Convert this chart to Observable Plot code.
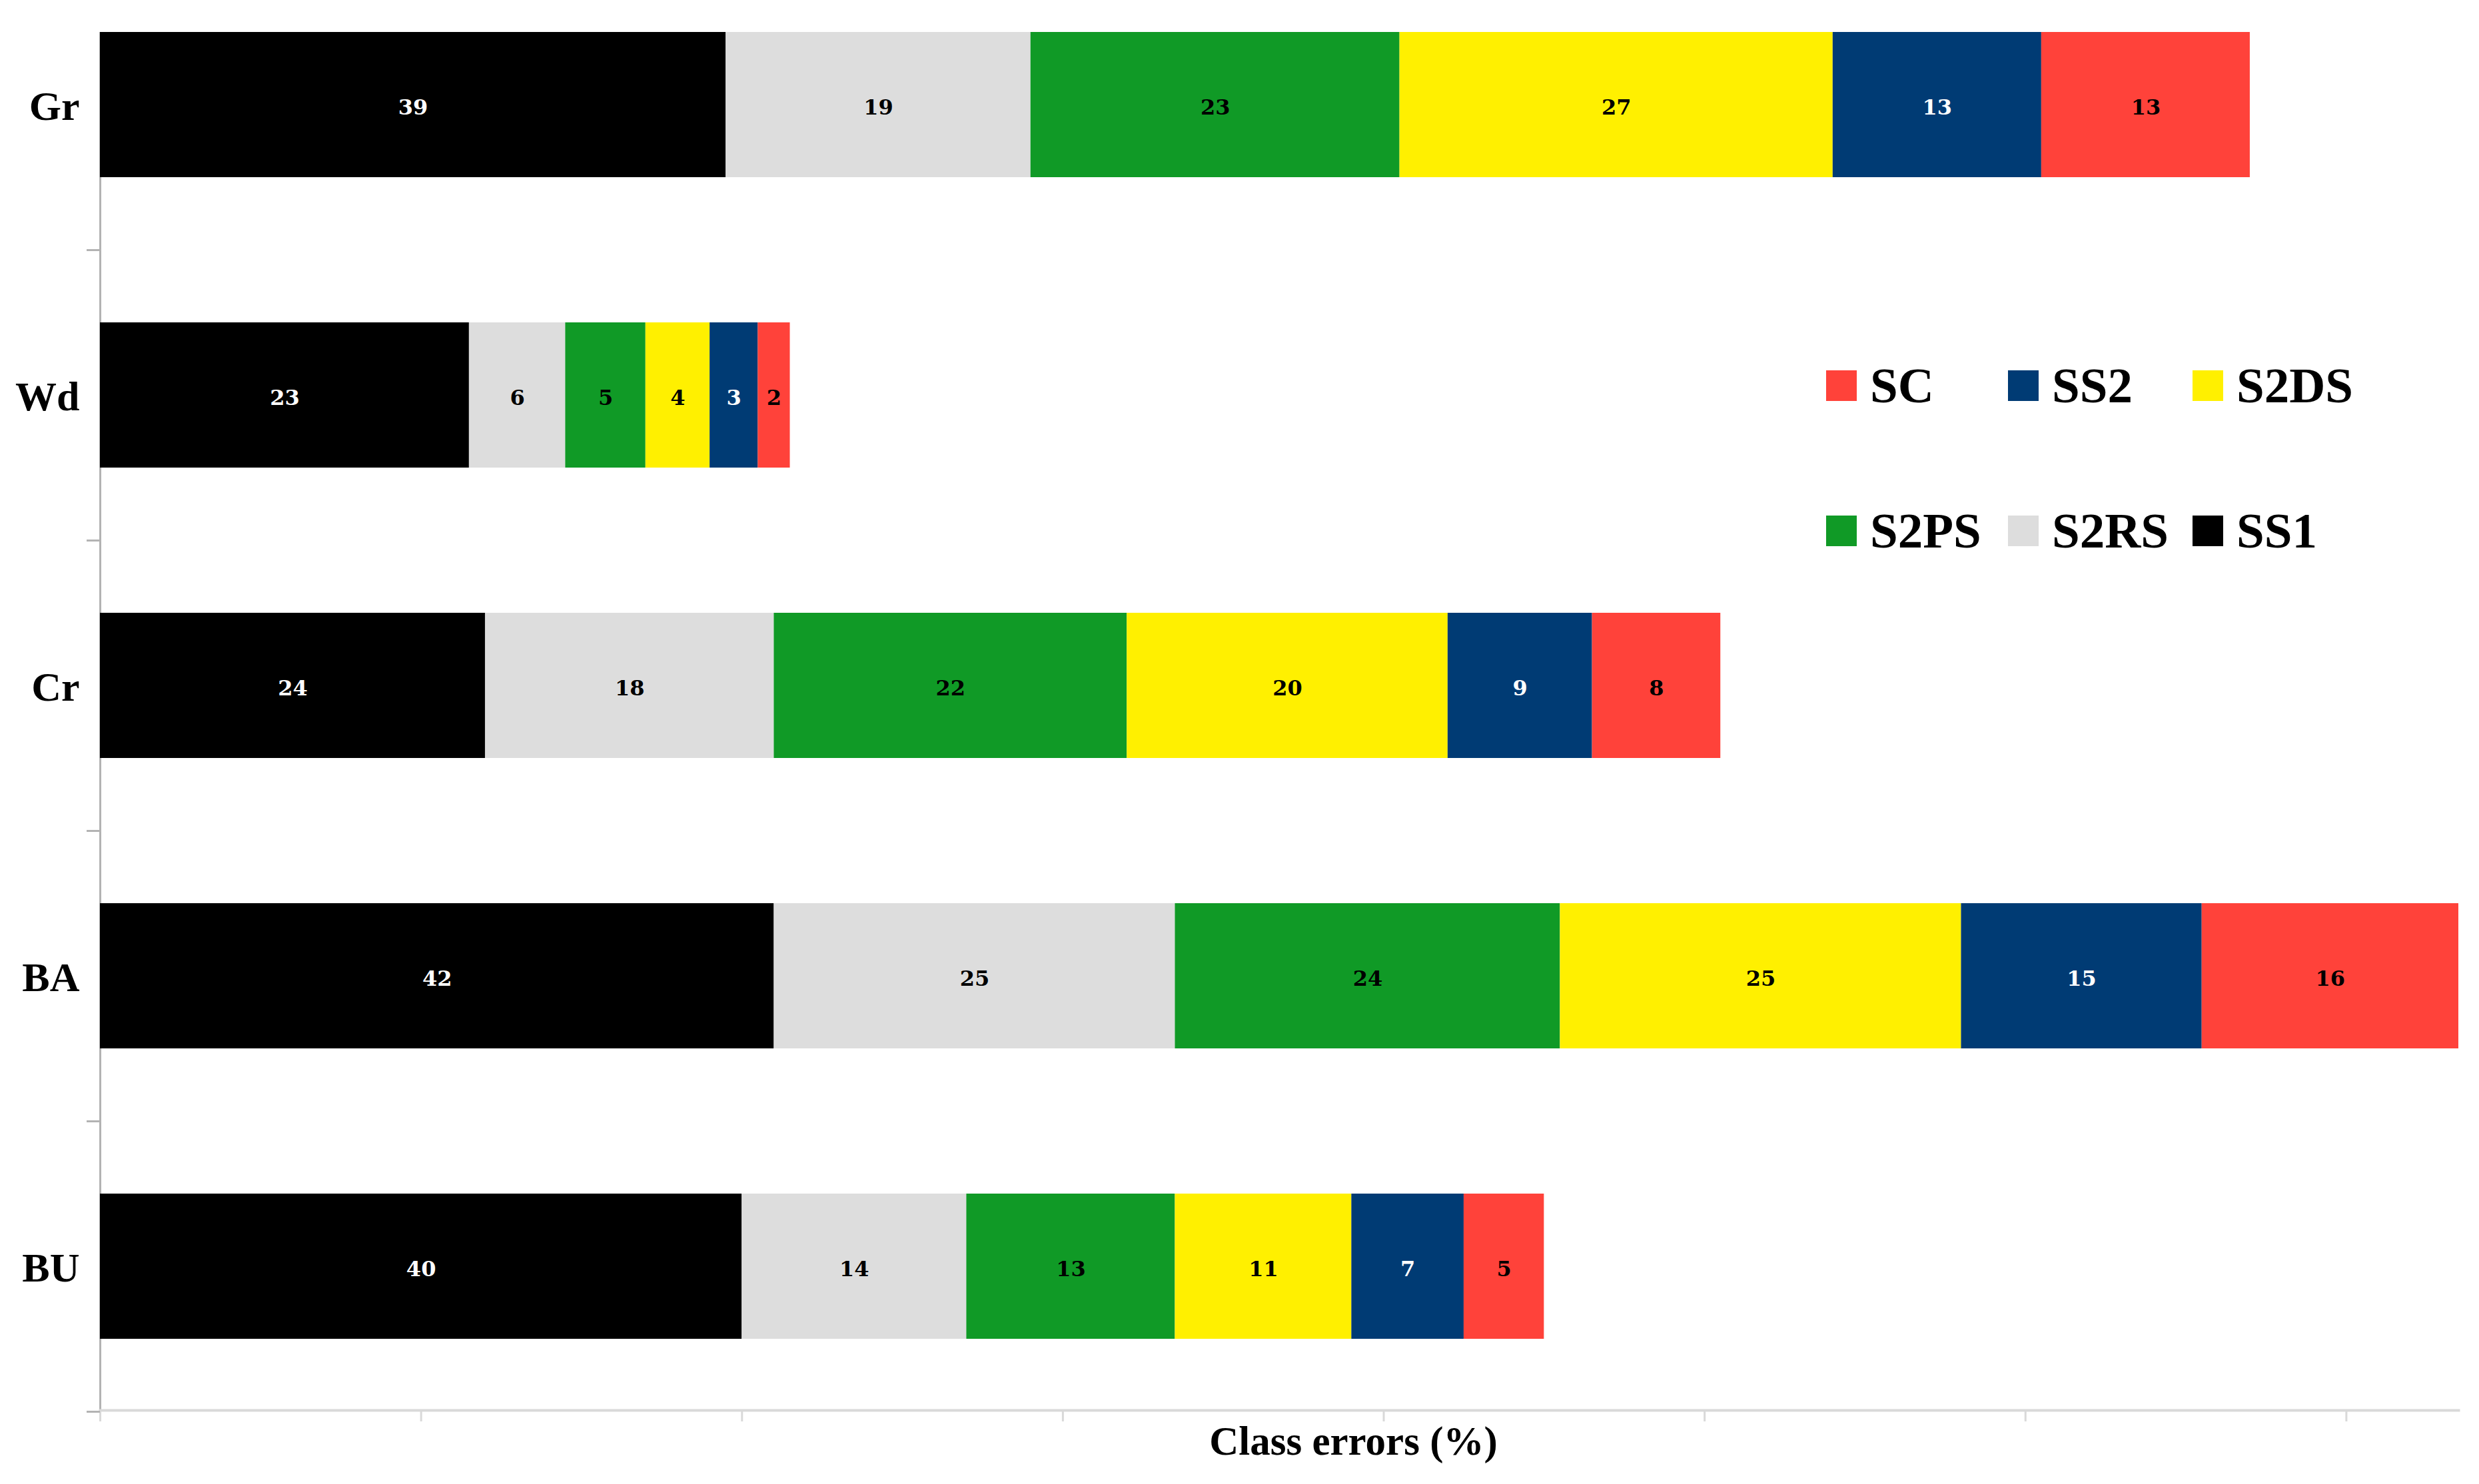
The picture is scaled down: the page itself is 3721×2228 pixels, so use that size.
<!DOCTYPE html>
<html>
<head>
<meta charset="utf-8">
<script src="https://cdn.jsdelivr.net/npm/d3@7"></script>
<script src="https://cdn.jsdelivr.net/npm/@observablehq/plot@0.6"></script>
<style>
  html, body { margin: 0; padding: 0; background: #fff; }
  #wrap { position: relative; width: 3721px; height: 2228px; }
  .leg { position: absolute; display: flex; align-items: center;
         font-family: "Liberation Serif", serif; font-weight: bold; font-size: 75px; color: #000; }
  .leg .sw { width: 46px; height: 46px; margin-right: 20px; }
</style>
</head>
<body>
<div id="wrap"></div>
<script>
const categories = ["Gr", "Wd", "Cr", "BA", "BU"];
const series = ["SS1", "S2RS", "S2PS", "S2DS", "SS2", "SC"];
const SS1  = [39, 23, 24, 42, 40];
const S2RS = [19, 6, 18, 25, 14];
const S2PS = [23, 5, 22, 24, 13];
const S2DS = [27, 4, 20, 25, 11];
const SS2  = [13, 3, 9, 15, 7];
const SC   = [13, 2, 8, 16, 5];
const seriesColors = ["#000000", "#dddddd", "#109a26", "#fff000", "#003b74", "#ff423a"];
const labelColors  = ["#ffffff", "#000000", "#000000", "#000000", "#ffffff", "#000000"];
const legendRows = [["SC", "SS2", "S2DS"], ["S2PS", "S2RS", "SS1"]];
const xTicks = [0, 20, 40, 60, 80, 100, 120, 140];
const xLabel = "Class errors (%)";

const valuesBySeries = {SS1, S2RS, S2PS, S2DS, SS2, SC};
const rows = [];
categories.forEach((c, i) => {
  series.forEach(s => rows.push({cat: c, series: s, value: valuesBySeries[s][i]}));
});
const labelColorOf = Object.fromEntries(series.map((s, i) => [s, labelColors[i]]));

const serif = "Liberation Serif";
const chart = Plot.plot({
  width: 3721,
  height: 2228,
  marginLeft: 150,
  marginRight: 31,
  marginTop: 48,
  marginBottom: 111,
  x: {domain: [0, 147], axis: null},
  y: {domain: categories, paddingInner: 0.5, paddingOuter: 0.12, align: 0, axis: null},
  color: {domain: series, range: seriesColors},
  marks: [
    Plot.ruleX([0], {stroke: "#b3b3b3", strokeWidth: 3}),
    Plot.frame({anchor: "bottom", stroke: "#d9d9d9", strokeWidth: 4}),
    Plot.axisX({ticks: xTicks, tickSize: 17, tickFormat: () => "", stroke: "#d9d9d9", strokeWidth: 3, label: null}),
    Plot.axisY({tickSize: 20, tickFormat: () => "", dy: 218, stroke: "#b3b3b3", strokeWidth: 3, label: null}),
    Plot.axisY({tickSize: 0, tickPadding: 31, dy: 3, fontSize: 62, fontFamily: serif, fontWeight: "bold", fill: "#000", label: null}),
    Plot.barX(rows, Plot.stackX({x: "value", y: "cat", fill: "series", order: series})),
    Plot.text(rows, Plot.stackX({x: "value", y: "cat", z: "series", text: d => String(d.value), order: series, dy: 4,
      fill: d => labelColorOf[d.series], fontFamily: "DejaVu Serif", fontWeight: "bold", fontSize: 32})),
    Plot.text([xLabel], {frameAnchor: "bottom", text: d => d, dx: 111, dy: 66,
      fontFamily: serif, fontWeight: "bold", fontSize: 61, fill: "#000"})
  ]
});
const wrap = document.getElementById("wrap");
wrap.appendChild(chart);

const colorOf = Object.fromEntries(series.map((s, i) => [s, seriesColors[i]]));
const legLeft = [2741, 3014, 3291];
const legTop = [556, 774];
legendRows.forEach((row, r) => row.forEach((name, c) => {
  const d = document.createElement("div");
  d.className = "leg";
  d.style.left = legLeft[c] + "px";
  d.style.top = legTop[r] + "px";
  d.style.height = "46px";
  d.innerHTML = `<span class="sw" style="background:${colorOf[name]}"></span><span>${name}</span>`;
  wrap.appendChild(d);
}));
</script>
</body>
</html>
